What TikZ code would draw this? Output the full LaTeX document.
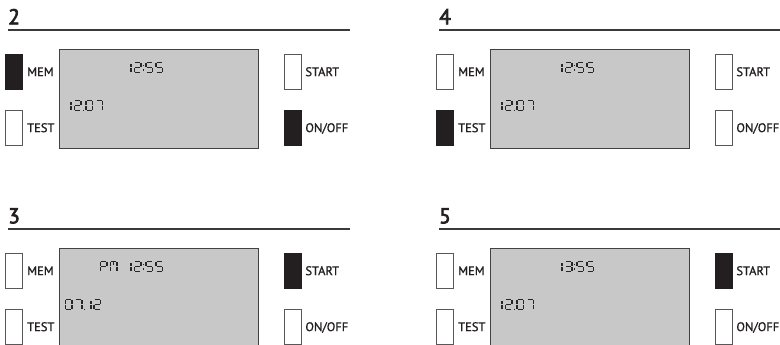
\documentclass[tikz,border=0pt]{standalone}
\usepackage{fontspec}
\setmainfont{PT Sans}
\newfontfamily\ttlfont{PT Sans}[FakeBold=3]
\newfontfamily\lblfont{PT Sans}[FakeBold=1.2]
\definecolor{ink}{HTML}{231F20}
\definecolor{lcdbg}{HTML}{C8C8C8}
\definecolor{lcdink}{HTML}{262626}
\definecolor{rulec}{HTML}{3A3A3A}
\tikzset{
  btn/.style={draw=ink!75, line width=0.6pt, minimum width=17pt, minimum height=35pt, inner sep=0pt, anchor=north west},
  pressed/.style={fill=ink, draw=ink},
  released/.style={fill=white},
  lbl/.style={font=\lblfont\fontsize{12.5}{13}\selectfont, text=ink, anchor=west, inner sep=0pt, text height=8.6pt, text depth=0pt},
  ttl/.style={font=\ttlfont\fontsize{21.5}{22}\selectfont, text=ink, anchor=base west, inner sep=0pt},
  rulel/.style={draw=rulec, line width=1.3pt},
  lcdbox/.style={draw=ink!85, line width=0.9pt, fill=lcdbg, minimum width=199pt, minimum height=99pt, inner sep=0pt, anchor=north west},
  lcdseg/.style={draw=lcdink, line width=1.45pt},
  lcddot/.style={fill=lcdink}
}
% seven-segment pieces (cell 6.5 x 10)
\newcommand{\sga}{\draw[lcdseg] (0.7,0)--(5.8,0);}
\newcommand{\sgb}{\draw[lcdseg] (6.5,0.7)--(6.5,4.3);}
\newcommand{\sgc}{\draw[lcdseg] (6.5,5.7)--(6.5,9.3);}
\newcommand{\sgd}{\draw[lcdseg] (0.7,10)--(5.8,10);}
\newcommand{\sge}{\draw[lcdseg] (0,5.7)--(0,9.3);}
\newcommand{\sgf}{\draw[lcdseg] (0,0.7)--(0,4.3);}
\newcommand{\sgg}{\draw[lcdseg] (0.7,5)--(5.8,5);}
\newcommand{\dgzero}{\sga\sgb\sgc\sgd\sge\sgf}
\newcommand{\dgone}{\draw[lcdseg] (0,1.6)--(0,4.3); \draw[lcdseg] (0,5.7)--(0,9.3);}
\newcommand{\dgtwo}{\sga\sgb\sgg\sge\sgd}
\newcommand{\dgthree}{\sga\sgb\sgg\sgc\sgd}
\newcommand{\dgfive}{\sga\sgf\sgg\sgc\sgd}
\newcommand{\dgseven}{\sga\sgb\sgc}
\newcommand{\dgP}{\sga\sgb\sgf\sgg\sge}
\newcommand{\dgM}{\sga\sgb\sgc\sge\sgf\draw[lcdseg] (3.25,0.7)--(3.25,3.2);}
\newcommand{\dgcolon}{\fill[lcddot] (-0.8,2.2) rectangle (0.8,3.8); \fill[lcddot] (-0.8,6.4) rectangle (0.8,8);}
\newcommand{\dgdot}{\fill[lcddot] (-0.8,9.1) rectangle (0.8,10.7);}
\newcommand{\lcd}[3]{\begin{scope}[shift={(#1,#2)}]#3\end{scope}}
% one panel: x, y, title, MEM, TEST, START, ON/OFF states, LCD content
\newcommand{\devpanel}[8]{%
\begin{scope}[shift={(#1,#2)}]
  \node[ttl] (title#3) at (8,24.3) {#3};
  \coordinate (rs#3) at (8,30);
  \coordinate (re#3) at (350,30);
  \draw[rulel] (rs#3) -- (re#3);
  \node[lcdbox] (disp#3) at (59,49) {};
  \node[btn,#4] (mem#3) at (5,54) {};
  \node[lbl] (memlbl#3) at ([xshift=4.4pt]mem#3.east) {MEM};
  \node[btn,#5] (test#3) at (5,110) {};
  \node[lbl] (testlbl#3) at ([xshift=4.4pt]test#3.east) {TEST};
  \node[btn,#6] (start#3) at (284,54) {};
  \node[lbl] (startlbl#3) at ([xshift=3.6pt]start#3.east) {START};
  \node[btn,#7] (onoff#3) at (284,110) {};
  \node[lbl] (onofflbl#3) at ([xshift=3.6pt]onoff#3.east) {ON/OFF};
  #8
\end{scope}}
\begin{document}
\begin{tikzpicture}[x=1pt,y=-1pt]
\useasboundingbox (0,0) rectangle (780,345);
\clip (0,0) rectangle (780,345);
\fill[white] (0,0) rectangle (780,345);
% panel 2
\devpanel{0}{0}{2}{pressed}{released}{released}{pressed}{%
  \lcd{131}{62.6}{\dgone}\lcd{134.5}{62.6}{\dgtwo}\lcd{143.6}{62.6}{\dgcolon}%
  \lcd{146}{62.6}{\dgfive}\lcd{156}{62.6}{\dgfive}%
  \lcd{71}{100.6}{\dgone}\lcd{74.5}{100.6}{\dgtwo}\lcd{83.6}{100.6}{\dgdot}%
  \lcd{86}{100.6}{\dgzero}\lcd{96}{100.6}{\dgseven}}
% panel 4
\devpanel{431}{0}{4}{released}{pressed}{released}{released}{%
  \lcd{131}{62.6}{\dgone}\lcd{134.5}{62.6}{\dgtwo}\lcd{143.6}{62.6}{\dgcolon}%
  \lcd{146}{62.6}{\dgfive}\lcd{156}{62.6}{\dgfive}%
  \lcd{71}{100.6}{\dgone}\lcd{74.5}{100.6}{\dgtwo}\lcd{83.6}{100.6}{\dgdot}%
  \lcd{86}{100.6}{\dgzero}\lcd{96}{100.6}{\dgseven}}
% panel 3
\devpanel{0}{199}{3}{released}{released}{pressed}{released}{%
  \lcd{100.5}{62.6}{\dgP}\lcd{110.5}{62.6}{\dgM}%
  \lcd{131}{62.6}{\dgone}\lcd{134.5}{62.6}{\dgtwo}\lcd{143.6}{62.6}{\dgcolon}%
  \lcd{146}{62.6}{\dgfive}\lcd{156}{62.6}{\dgfive}%
  \lcd{65.5}{100.6}{\dgzero}\lcd{75.5}{100.6}{\dgseven}\lcd{84.6}{100.6}{\dgdot}%
  \lcd{91}{100.6}{\dgone}\lcd{94}{100.6}{\dgtwo}}
% panel 5
\devpanel{431}{199}{5}{released}{released}{pressed}{released}{%
  \lcd{131}{62.6}{\dgone}\lcd{134.5}{62.6}{\dgthree}\lcd{143.6}{62.6}{\dgcolon}%
  \lcd{146}{62.6}{\dgfive}\lcd{156}{62.6}{\dgfive}%
  \lcd{71}{100.6}{\dgone}\lcd{74.5}{100.6}{\dgtwo}\lcd{83.6}{100.6}{\dgdot}%
  \lcd{86}{100.6}{\dgzero}\lcd{96}{100.6}{\dgseven}}
\end{tikzpicture}
\end{document}
